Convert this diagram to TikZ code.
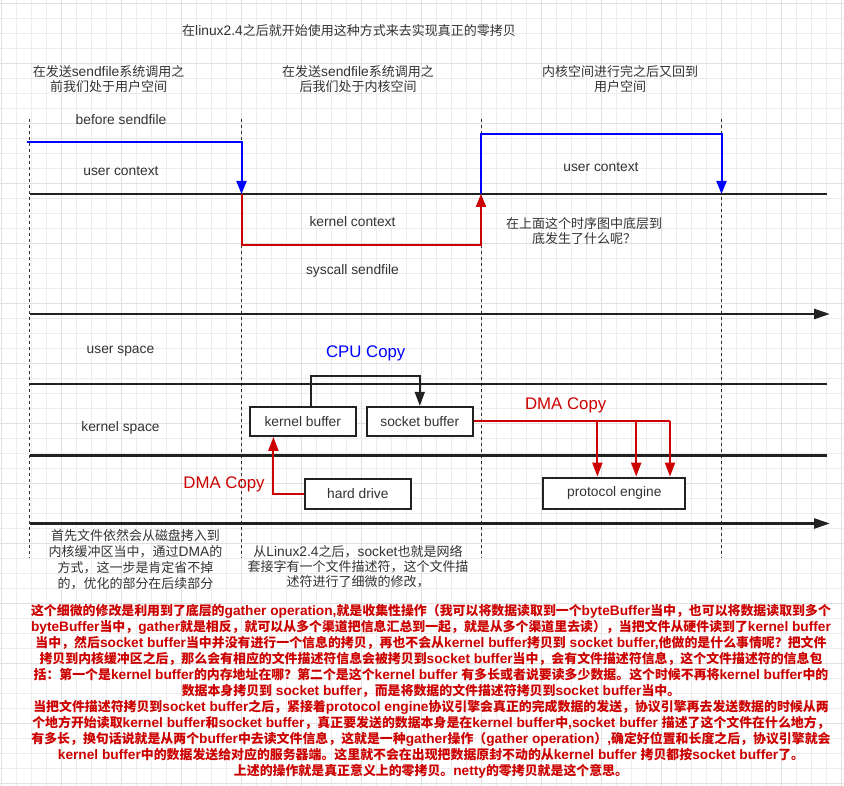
\documentclass[tikz,border=0pt]{standalone}
\usepackage{fontspec}
\setmainfont{Liberation Sans}
\newfontfamily\cjkfont[Scale=0.942]{Noto Sans CJK SC}
\usetikzlibrary{arrows.meta}
\XeTeXinterchartokenstate=1
\newXeTeXintercharclass\mycjkclass
\newcount\mycnt
\newcommand\setcjkrange[2]{\mycnt=#1\relax\loop\XeTeXcharclass\mycnt=\mycjkclass\relax\ifnum\mycnt<#2\relax\advance\mycnt by 1\relax\repeat}
\setcjkrange{"4E00}{"9FFF}
\setcjkrange{"3000}{"303F}
\setcjkrange{"FF00}{"FFEF}
\XeTeXinterchartoks 0 \mycjkclass = {\cjkfont}
\XeTeXinterchartoks 4095 \mycjkclass = {\cjkfont}
\XeTeXinterchartoks \mycjkclass 0 = {\rmfamily}
\XeTeXinterchartoks \mycjkclass 4095 = {\rmfamily}
\definecolor{gridminor}{HTML}{EDEDED}
\definecolor{gridmajor}{HTML}{E0E0E0}
\definecolor{txtgray}{HTML}{333333}
\definecolor{linedark}{HTML}{222222}
\definecolor{dmared}{HTML}{CC0000}
\definecolor{cpublue}{HTML}{0000FF}
\begin{document}
\begin{tikzpicture}[x=1pt,y=-1pt,
  lbl/.style={font=\fontsize{13.8}{15}\selectfont, text=txtgray, inner sep=0pt, align=center},
  biglbl/.style={font=\fontsize{16.8}{18}\selectfont, inner sep=0pt},
  para/.style={font=\bfseries\fontsize{13.7}{16.07}\selectfont, text=dmared, inner sep=0pt, align=center},
  buf/.style={draw=linedark, line width=2pt, fill=white, minimum width=106pt, minimum height=29pt, font=\fontsize{13.8}{15}\selectfont, text=txtgray, inner sep=0pt},
  lane/.style={draw=linedark, line width=2.5pt},
  axis/.style={draw=linedark, line width=2.5pt, -{Triangle[length=16pt,width=10pt]}},
  sep/.style={draw=txtgray, line width=0.9pt, dash pattern=on 3pt off 3pt},
  bluectx/.style={draw=cpublue, line width=2pt, -{Triangle[length=13pt,width=10pt]}},
  redctx/.style={draw=dmared, line width=2pt, -{Triangle[length=13pt,width=10pt]}},
  cpuline/.style={draw=linedark, line width=1.5pt, -{Triangle[length=14pt,width=10pt]}},
  dmaline/.style={draw=dmared, line width=2pt, -{Triangle[length=14pt,width=10pt]}},
  gmin/.style={draw=gridminor, line width=0.8pt},
  gmaj/.style={draw=gridmajor, line width=0.8pt}]
\useasboundingbox (0,0) rectangle (844,786);
\fill[white] (0,0) rectangle (844,786);
% grid
\foreach \i in {0,...,56} \draw[gmin] ({1.7+15*\i},0) -- ({1.7+15*\i},786);
\foreach \j in {0,...,52} \draw[gmin] (0,{3.3+15*\j}) -- (844,{3.3+15*\j});
\foreach \i in {0,...,14} \draw[gmaj] ({1.7+60*\i},0) -- ({1.7+60*\i},786);
\foreach \j in {0,...,13} \draw[gmaj] (0,{3.3+60*\j}) -- (844,{3.3+60*\j});

% coordinates
\coordinate (d1t) at (29.5,119); \coordinate (d1b) at (29.5,558);
\coordinate (d2t) at (241.5,119); \coordinate (d2b) at (241.5,558);
\coordinate (d3t) at (481,119); \coordinate (d3b) at (481,558);
\coordinate (d4t) at (721.5,119); \coordinate (d4b) at (721.5,558);
\draw[sep] (d1t) -- (d1b);
\draw[sep] (d2t) -- (d2b);
\draw[sep] (d3t) -- (d3b);
\draw[sep] (d4t) -- (d4b);

% texts top
\node[lbl] (title) at (349,31) {在linux2.4之后就开始使用这种方式来去实现真正的零拷贝};
\node[lbl] (lblA) at (108.6,79.5) {在发送sendfile系统调用之\\前我们处于用户空间};
\node[lbl] (lblB) at (358,79.5) {在发送sendfile系统调用之\\后我们处于内核空间};
\node[lbl] (lblC) at (620,79.5) {内核空间进行完之后又回到\\用户空间};
\node[lbl] (before) at (121,119.5) {before sendfile};
\node[lbl] (ucl) at (121,171) {user context};
\node[lbl] (ucr) at (601,167) {user context};
\node[lbl] (kc) at (352.5,222) {kernel context};
\node[lbl] (q) at (584,230.8) {在上面这个时序图中底层到\\底发生了什么呢？};
\node[lbl] (sys) at (352.5,271) {syscall sendfile};

% context lanes
\coordinate (l1a) at (29.5,194); \coordinate (l1b) at (827,194);
\draw[lane] (l1a) -- (l1b);
\coordinate (b1s) at (27,142);
\coordinate (b1c) at (241.5,142);
\coordinate (b1e) at (241.5,194);
\draw[bluectx] (b1s) -- (b1c) -- (b1e);
\coordinate (r1a) at (241.5,245);
\coordinate (r1b) at (481,245);
\coordinate (r1e) at (481,194);
\draw[redctx] (b1e) -- (r1a) -- (r1b) -- (r1e);
\coordinate (b2a) at (481,134.5);
\coordinate (b2b) at (721.5,134.5);
\coordinate (b2e) at (721.5,194);
\draw[bluectx] (r1e) -- (b2a) -- (b2b) -- (b2e);

% space lanes
\coordinate (a1s) at (29.5,314); \coordinate (a1e) at (830,314);
\draw[axis] (a1s) -- (a1e);
\coordinate (l2a) at (29.5,384); \coordinate (l2b) at (827,384);
\draw[lane] (l2a) -- (l2b);
\coordinate (l3a) at (29.5,455.7); \coordinate (l3b) at (827,455.7);
\draw[lane] (l3a) -- (l3b);
\coordinate (a2s) at (29.5,523.5); \coordinate (a2e) at (830,523.5);
\draw[axis] (a2s) -- (a2e);

\node[lbl] (us) at (120.5,351) {user space};
\node[lbl] (ks) at (120.5,427.5) {kernel space};
\node[biglbl, text=cpublue] (cpu) at (365.7,353.5) {CPU Copy};
\node[biglbl, text=dmared] (dmaR) at (565.7,405.5) {DMA Copy};
\node[biglbl, text=dmared] (dmaL) at (224,484.5) {DMA Copy};

% boxes
\node[buf] (kb) at (302.75,421.35) {kernel buffer};
\node[buf] (sb) at (419.8,421.35) {socket buffer};
\node[buf, minimum height=30pt] (hd) at (357.85,493.5) {hard drive};
\node[buf, minimum width=142pt, minimum height=31.5pt] (pe) at (614.35,493.35) {protocol engine};

% CPU copy
\coordinate (cpu1) at (311,376);
\coordinate (cpu2) at (419.8,376);
\draw[cpuline] (cpu1 |- kb.north) -- (cpu1) -- (cpu2) -- (cpu2 |- sb.north);

% DMA right
\coordinate (dm1) at (597.4,421.35);
\coordinate (dm2) at (636.2,421.35);
\coordinate (dm3) at (670,421.35);
\draw[draw=dmared, line width=2pt] (sb.east) -- (dm3);
\draw[dmaline] (dm1) -- (dm1 |- pe.north);
\draw[dmaline] (dm2) -- (dm2 |- pe.north);
\draw[dmaline] (dm3) -- (dm3 |- pe.north);

% DMA left
\coordinate (dl1) at (273.4,493.5);
\draw[dmaline] (hd.west) -- (dl1) -- (dl1 |- kb.south);

% notes
\node[lbl, font=\fontsize{13.8}{15.8}\selectfont] (noteL) at (135.5,559.7) {首先文件依然会从磁盘拷入到\\内核缓冲区当中，通过DMA的\\方式，这一步是肯定省不掉\\的，优化的部分在后续部分};
\node[lbl] (noteM) at (358,567) {从Linux2.4之后，socket也就是网络\\套接字有一个文件描述符，这个文件描\\述符进行了细微的修改，};

\node[para] (para) at (431,691.4) {这个细微的修改是利用到了底层的gather operation,就是收集性操作（我可以将数据读取到一个byteBuffer当中，也可以将数据读取到多个\\
byteBuffer当中，gather就是相反，就可以从多个渠道把信息汇总到一起，就是从多个渠道里去读），当把文件从硬件读到了kernel buffer\\
当中，然后socket buffer当中并没有进行一个信息的拷贝，再也不会从kernel buffer拷贝到 socket buffer,他做的是什么事情呢？把文件\\
拷贝到内核缓冲区之后，那么会有相应的文件描述符信息会被拷贝到socket buffer当中，会有文件描述符信息，这个文件描述符的信息包\\
括：第一个是kernel buffer的内存地址在哪？第二个是这个kernel buffer 有多长或者说要读多少数据。这个时候不再将kernel buffer中的\\
数据本身拷贝到 socket buffer，而是将数据的文件描述符拷贝到socket buffer当中。\\
当把文件描述符拷贝到socket buffer之后，紧接着protocol engine协议引擎会真正的完成数据的发送，协议引擎再去发送数据的时候从两\\
个地方开始读取kernel buffer和socket buffer，真正要发送的数据本身是在kernel buffer中,socket buffer 描述了这个文件在什么地方，\\
有多长，换句话说就是从两个buffer中去读文件信息，这就是一种gather操作（gather operation）,确定好位置和长度之后，协议引擎就会\\
kernel buffer中的数据发送给对应的服务器端。这里就不会在出现把数据原封不动的从kernel buffer 拷贝都按socket buffer了。\\
上述的操作就是真正意义上的零拷贝。netty的零拷贝就是这个意思。};
\end{tikzpicture}
\end{document}
